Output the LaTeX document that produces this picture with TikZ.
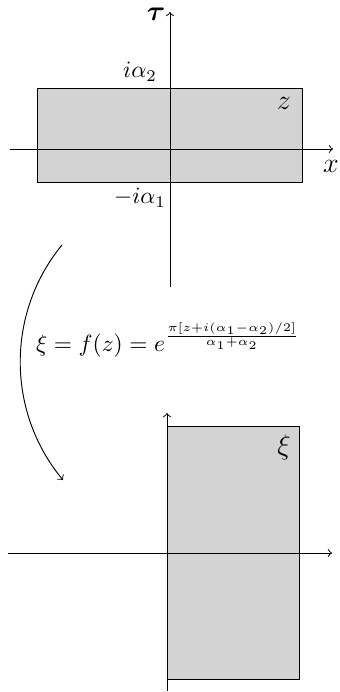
\documentclass[tikz,border=0pt]{standalone}
\usepackage{amsmath}
\definecolor{regiongray}{RGB}{211,211,211}

\begin{document}
\begin{tikzpicture}[x=0.015cm,y=-0.015cm,
    bigmath/.style={font=\large}]
      \useasboundingbox (0,0) rectangle (339,692);

      % z PLANE
      \draw[fill=regiongray] (37,88) rectangle (302,182);
      \coordinate (zl) at (10,149);
      \coordinate (zr) at (333,149);
      \coordinate (zb) at (170,287);
      \coordinate (zt) at (170,12);
      \draw[->] (zl) -- (zr);
      \draw[->] (zb) -- (zt);

      \node[bigmath,inner sep=1pt] (tau)  at (156,14)  {$\boldsymbol{\tau}$};
      \node[bigmath] (xlab) at (331,166) {$x$};
      \node (top)  at (140,72)  {$i\alpha_2$};
      \node (bot)  at (140,198) {$-i\alpha_1$};
      \node[bigmath] (zlab) at (284,103) {$z$};

      % xi PLANE
      \draw[fill=regiongray] (167,426) rectangle (299,679);
      \coordinate (wl) at (8,553);
      \coordinate (wr) at (332,553);
      \coordinate (wb) at (167,691);
      \coordinate (wt) at (167,413);
      \draw[->] (wl) -- (wr);
      \draw[->] (wb) -- (wt);

      \node[bigmath] (xilab) at (284,447) {$\xi$};

      % ARROWS
      \coordinate (arcA) at (62,245);
      \coordinate (arcB) at (63,480);
      \draw[->] (arcA) .. controls (6,313) and (6.5,412) .. (arcB);

      % NOTES
      \node (map) at (168,340)
        {$\xi=f(z)=e^{\frac{\pi[z+i(\alpha_1-\alpha_2)/2]}{\alpha_1+\alpha_2}}$};

\end{tikzpicture}
\end{document}
